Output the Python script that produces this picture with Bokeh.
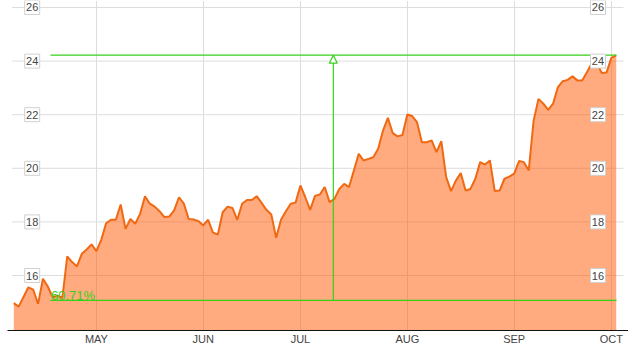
from bokeh.plotting import figure
from bokeh.models import Range1d, FixedTicker, Label, Arrow, NormalHead
from bokeh.core.properties import value
from bokeh.embed import file_html
from bokeh.resources import INLINE

# ---- data (daily closes, trading days from early April to early October) ----
VALUES = [
    14.97, 14.84, 15.20, 15.56, 15.47, 14.94, 15.88, 15.59, 15.19, 15.25,
    15.17, 16.71, 16.50, 16.34, 16.81, 16.97, 17.16, 16.91, 17.33, 17.95,
    18.08, 18.08, 18.65, 17.74, 18.11, 17.93, 18.30, 18.96, 18.68, 18.57,
    18.40, 18.18, 18.20, 18.43, 18.92, 18.68, 18.11, 18.09, 18.03, 17.87,
    18.08, 17.60, 17.53, 18.36, 18.57, 18.52, 18.08, 18.68, 18.82, 18.82,
    18.96, 18.71, 18.45, 18.28, 17.41, 18.08, 18.40, 18.68, 18.72, 19.36,
    18.92, 18.45, 18.97, 19.02, 19.30, 18.74, 18.86, 19.23, 19.42, 19.30,
    19.92, 20.54, 20.29, 20.35, 20.41, 20.73, 21.41, 21.88, 21.31, 21.19,
    21.24, 22.01, 21.95, 21.72, 20.97, 20.97, 21.04, 20.60, 21.01, 19.67,
    19.15, 19.54, 19.82, 19.17, 19.23, 19.61, 20.23, 20.14, 20.29, 19.15,
    19.17, 19.61, 19.69, 19.80, 20.27, 20.23, 19.92, 21.78, 22.59, 22.41,
    22.18, 22.41, 23.03, 23.25, 23.30, 23.43, 23.28, 23.28, 23.59, 23.93,
    23.93, 23.56, 23.57, 24.12, 24.21,
]
DAY_INDEX = list(range(len(VALUES)))

MONTH_LABELS = ["MAY", "JUN", "JUL", "AUG", "SEP", "OCT"]
MONTH_START_INDEX = [17, 39, 59, 81, 103, 123]

Y_TICKS = [16, 18, 20, 22, 24, 26]
Y_LABELS = [str(t) for t in Y_TICKS]

# measurement annotation
ANN_LOW = 15.07
ANN_HIGH = 24.22
ANN_TEXT = "60.71%"

# ---- styles / layout constants ----
Y_MIN, Y_MAX = 13.948, 26.261
X_MIN, X_MAX = -1.297, 126.53
GREEN = "#35d118"
ORANGE_LINE = "#f06912"
GRID = "#dddddd"
FONT = "Liberation Sans"

p = figure(width=628, height=347, output_backend="svg", toolbar_location=None,
           x_range=Range1d(X_MIN, X_MAX), y_range=Range1d(Y_MIN, Y_MAX),
           min_border_left=7, min_border_right=0, min_border_top=0,
           min_border_bottom=17, y_axis_location=None)
p.outline_line_color = None
p.background_fill_color = "white"
p.border_fill_color = "white"

ax = p.xaxis[0]
ax.ticker = FixedTicker(ticks=MONTH_START_INDEX)
ax.major_label_overrides = {i: l for i, l in zip(MONTH_START_INDEX, MONTH_LABELS)}
ax.axis_line_color = "#111111"
ax.axis_line_width = 1
ax.major_tick_line_color = None
ax.minor_tick_line_color = None
ax.major_tick_out = 0
ax.major_tick_in = 0
ax.major_label_standoff = 2
ax.major_label_text_font = FONT
ax.major_label_text_font_size = "11px"
ax.major_label_text_color = "#444444"

p.xgrid.grid_line_color = GRID
p.ygrid.grid_line_color = None

# horizontal grid lines (slightly inset)
p.segment(x0=-0.35, x1=125.5, y0=Y_TICKS, y1=Y_TICKS, line_color=GRID, line_width=1)

# area + line
p.varea(x=DAY_INDEX, y1=Y_MIN, y2=VALUES, fill_color="#ff5500", fill_alpha=0.5)
p.line(DAY_INDEX, VALUES, line_color=ORANGE_LINE, line_width=2)

# measurement lines
ANN_X0, ANN_X1, ANN_XV = 7.55, 124.06, 65.77
p.segment(x0=ANN_X0, x1=ANN_X1, y0=[ANN_LOW, ANN_HIGH], y1=[ANN_LOW, ANN_HIGH],
          line_color=GREEN, line_width=1.2)
p.add_layout(Arrow(end=NormalHead(size=8, fill_color="white", line_color=GREEN, line_width=1.2),
                   x_start=ANN_XV, y_start=ANN_LOW, x_end=ANN_XV, y_end=ANN_HIGH,
                   line_color=GREEN, line_width=1.2))
p.add_layout(Label(x=ANN_X0 + 0.1, y=ANN_LOW + 0.2, text=ANN_TEXT, text_color=GREEN,
                   text_font=FONT, text_font_size="13px", text_baseline="alphabetic",
                   text_align="left"))

# y tick labels inside plot, both sides, boxed
for xl in (3.79, 120.25):
    p.rect(x=xl, y=Y_TICKS, width=15, height=14, width_units="screen", height_units="screen",
           fill_color="white", line_color="#d0d0d0", line_width=1)
    p.text(x=xl, y=Y_TICKS, text=Y_LABELS, text_font=value(FONT), text_font_size="11px",
           text_align="center", text_baseline="middle", text_color="#444444")

open("out.html", "w").write(file_html(p, INLINE))
